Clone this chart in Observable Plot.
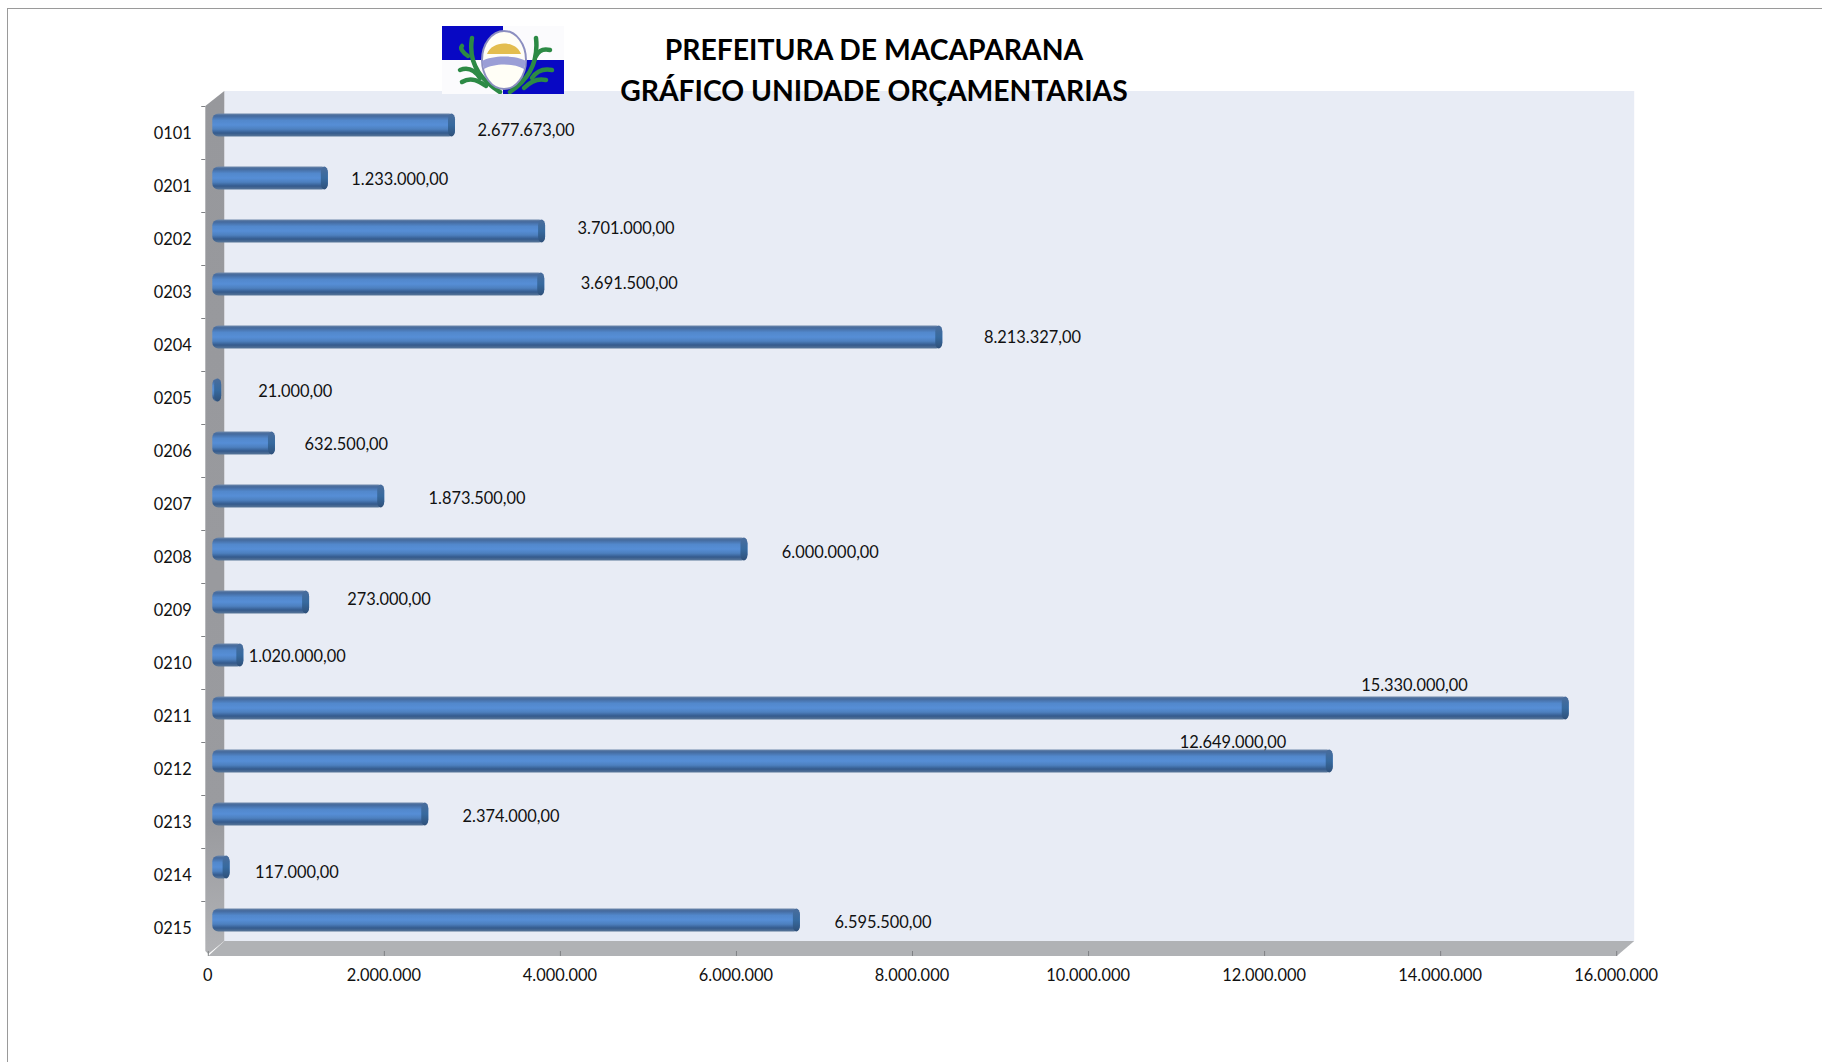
<!DOCTYPE html>
<html><head><meta charset="utf-8">
<script src="https://cdn.jsdelivr.net/npm/d3@7"></script>
<script src="https://cdn.jsdelivr.net/npm/@observablehq/plot@0.6"></script>
<style>
html,body{margin:0;padding:0;background:#fff;width:1822px;height:1062px;overflow:hidden}
#page{position:relative;width:1822px;height:1062px}
#page svg.chart{position:absolute;left:0;top:0}
#page svg.chart g[aria-label="bar"]{filter:blur(.6px)}
#sheet{position:absolute;left:7px;top:8px;right:0;bottom:0;border-top:1px solid #9a9a9a;border-left:1px solid #9a9a9a}
#title{position:absolute;left:474px;width:800px;top:29px;margin:0;text-align:center;font:700 28.3px/41px Lato,sans-serif;color:#000}
#logo{position:absolute;left:442px;top:26px;filter:blur(.5px)}
</style></head>
<body><div id="page"><div id="sheet"></div><div id="chart"></div>
<svg id="logo" width="122" height="68" viewBox="0 0 122 68">
 <rect width="122" height="68" fill="#fbfbfd"/>
 <rect width="61" height="34" fill="#0808c4"/>
 <rect x="61" y="34" width="61" height="34" fill="#0808c4"/>
 <g fill="none" stroke="#2c8a45" stroke-width="4.5" stroke-linecap="round">
  <path d="M30 12C27 30 32 50 58 66"/><path d="M18 44C28 40 34 46 38 52"/><path d="M20 56C30 50 38 56 44 60"/><path d="M26 30C20 26 18 22 20 20"/>
  <path d="M94 12C96 30 92 50 68 66"/><path d="M108 24C100 22 96 26 94 30"/><path d="M110 44C100 42 94 46 90 52"/><path d="M104 54C96 52 88 56 82 62"/>
 </g>
 <ellipse cx="62" cy="34" rx="22" ry="29" fill="#fffef6" stroke="#8c8fc0" stroke-width="2"/>
 <path d="M45 28C50 14 74 14 79 28Z" fill="#e3bd4e"/>
 <path d="M40 35C50 29 74 29 84 35L82 43C72 37 52 37 42 43Z" fill="#9a9ed6"/>
</svg>
<h1 id="title">PREFEITURA DE MACAPARANA<br>GRÁFICO UNIDADE ORÇAMENTARIAS</h1>
</div>
<script>
const categories = ["0101","0201","0202","0203","0204","0205","0206","0207","0208","0209","0210","0211","0212","0213","0214","0215"];
// Lengths of the drawn bars
const barValues = [2677673,1233000,3701000,3691500,8213327,21000,632500,1873500,6000000,1020000,273000,15330000,12649000,2374000,117000,6595500];
// Values printed beside the bars (the source prints 0209 and 0210 crossed over)
const labelValues = [2677673,1233000,3701000,3691500,8213327,21000,632500,1873500,6000000,273000,1020000,15330000,12649000,2374000,117000,6595500];
const xTicks = [0,2000000,4000000,6000000,8000000,10000000,12000000,14000000,16000000];

// Hand-placed label offsets in the source chart
const labelDx = [33,34,43,47,52.1,47.5,40,54.8,44.9,48.6,15.8,-197,-142.5,44.8,36,45.2];
const labelDy = [-2.6,-6.6,-10.6,-8.2,-6.9,-6.5,-6,-5.6,-3.9,-10.5,-6.5,-30.5,-26.5,-5.2,-2.4,-5.4];

const rows = categories.map((cat,i)=>({cat, v:barValues[i], label:labelValues[i], dx:labelDx[i], dy:labelDy[i]}));
const br = d3.formatLocale({decimal:",",thousands:".",grouping:[3],currency:["",""]});
const fmtLabel = br.format(",.2f"), fmtTick = br.format(",.0f");

const DX = 16, DXR = 17.5, DY = 15;
const shell = (index, scales, values, dim) => {
  const x0 = dim.marginLeft, x1 = dim.width - dim.marginRight, y0 = dim.marginTop, y1 = dim.height - dim.marginBottom;
  const g = d3.create("svg:g");
  const defs = g.append("defs");
  const bar = defs.append("linearGradient").attr("id","barGrad").attr("x1",0).attr("x2",0).attr("y1",0).attr("y2",1);
  [[0,"#6d88ab"],[.1,"#44699c"],[.3,"#5288cc"],[.5,"#568ed6"],[.68,"#4d80bf"],[.85,"#345a8c"],[1,"#5a7799"]]
    .forEach(([o,c])=>bar.append("stop").attr("offset",o).attr("stop-color",c));
  const cap = defs.append("linearGradient").attr("id","capGrad").attr("x1",0).attr("x2",0).attr("y1",0).attr("y2",1);
  [[0,"#4a6d9c"],[.5,"#376a9f"],[1,"#2f5079"]].forEach(([o,c])=>cap.append("stop").attr("offset",o).attr("stop-color",c));
  const wall = defs.append("linearGradient").attr("id","wallGrad").attr("x1",0).attr("x2",0).attr("y1",0).attr("y2",1);
  [[0,"#97989c"],[.85,"#9a9b9f"],[1,"#b2b3b6"]].forEach(([o,c])=>wall.append("stop").attr("offset",o).attr("stop-color",c));
  const poly = (pts,fill)=>g.append("polygon").attr("points",pts.map(p=>p.join(",")).join(" ")).attr("fill",fill);
  poly([[x0+DX,y0-DY],[x1+DXR,y0-DY],[x1+DXR,y1-DY],[x0+DX,y1-DY]],"#e8ecf5");
  poly([[x0+DX,y1-DY],[x1+DXR,y1-DY],[x1,y1],[x0,y1]],"#b0b2b5");
  poly([[x0-3,y0],[x0+DX,y0-DY],[x0+DX,y1-DY],[x0,y1-2],[x0-3,y1-5]],"url(#wallGrad)");
  xTicks.forEach(t=>g.append("line").attr("x1",scales.x(t)).attr("x2",scales.x(t)).attr("y1",y1-5).attr("y2",y1).attr("stroke","#7f8184"));
  return g.node();
};

const chart = Plot.plot({
  width:1822, height:1062,
  marginLeft:208.3, marginRight:205.3, marginTop:106, marginBottom:106,
  style:{background:"transparent",fontFamily:"Lato, sans-serif",fontSize:"16.4px",color:"#111"},
  className:"chart",
  x:{domain:[0,16000000]},
  y:{domain:categories, range:[106,954], paddingInner:0.566, paddingOuter:0.283, align:0.5},
  marks:[
    shell,
    Plot.ruleY(categories,{y:d=>d,dy:-26.5,x1:-80000,x2:-34000,stroke:"#7f8184"}),
    Plot.barX(rows,{x1:()=>0,x2:"v",y:"cat",fill:"url(#barGrad)",dx:4,dy:-7.5,insetRight:-7,rx:6}),
    Plot.barX(rows,{x1:"v",x2:"v",y:"cat",fill:"url(#capGrad)",dx:4,dy:-7.5,insetRight:-7,rx:3.5,ry:6}),
    Plot.axisY({domain:categories,tickSize:0,tickPadding:17,dy:0.8,label:null,fill:"#111",fontSize:16.4}),
    Plot.axisX({ticks:xTicks,tickSize:0,tickPadding:13,dx:-1,label:null,tickFormat:fmtTick,fill:"#111",fontSize:16.4}),
    ...rows.map(r=>Plot.text([r],{x:"v",y:"cat",text:d=>fmtLabel(d.label),textAnchor:"start",dx:r.dx,dy:r.dy,fill:"#111",fontSize:16.4}))
  ]
});
document.getElementById("chart").appendChild(chart);
</script></body></html>
